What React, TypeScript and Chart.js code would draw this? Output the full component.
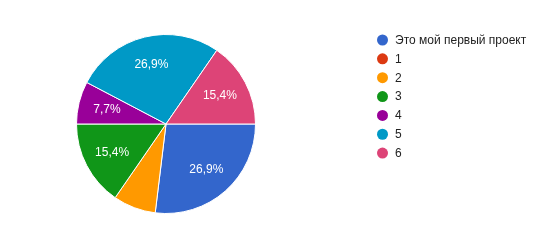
import React, { useEffect, useRef } from "react";
import { Chart, registerables } from "chart.js";

Chart.register(...registerables);

const categories = ["Это мой первый проект", "1", "2", "3", "4", "5", "6"];
const counts = [7, 0, 2, 4, 2, 7, 4];
const colors = ["#3366cc", "#dc3912", "#ff9900", "#109618", "#990099", "#0099c6", "#dd4477"];
const labelShown = [true, false, false, true, true, true, true];

const FONT = "'Liberation Sans', Arial, sans-serif";

const sliceLabels = {
  id: "sliceLabels",
  afterDatasetsDraw(chart: any) {
    const ctx = chart.ctx;
    const meta = chart.getDatasetMeta(0);
    const data = chart.data.datasets[0].data as number[];
    const total = data.reduce((a, b) => a + b, 0);
    ctx.save();
    ctx.font = `12px ${FONT}`;
    ctx.fillStyle = "#ffffff";
    ctx.textAlign = "center";
    ctx.textBaseline = "middle";
    meta.data.forEach((arc: any, i: number) => {
      if (!labelShown[i] || !data[i]) return;
      const { x, y, startAngle, endAngle, outerRadius } = arc.getProps(
        ["x", "y", "startAngle", "endAngle", "outerRadius"],
        true
      );
      const mid = (startAngle + endAngle) / 2;
      const r = outerRadius * 0.68;
      const txt = ((data[i] / total) * 100).toFixed(1).replace(".", ",") + "%";
      ctx.fillText(txt, x + Math.cos(mid) * r, y + Math.sin(mid) * r);
    });
    ctx.restore();
  },
};

const sideLegend = {
  id: "sideLegend",
  afterDraw(chart: any) {
    const ctx = chart.ctx;
    const labels = chart.data.labels as string[];
    const bg = chart.data.datasets[0].backgroundColor as string[];
    ctx.save();
    ctx.font = `12px ${FONT}`;
    ctx.textAlign = "left";
    ctx.textBaseline = "middle";
    labels.forEach((lab, i) => {
      const cy = 40 + i * 18.85;
      ctx.beginPath();
      ctx.arc(382.5, cy, 5.5, 0, Math.PI * 2);
      ctx.fillStyle = bg[i];
      ctx.fill();
      ctx.fillStyle = "#222222";
      ctx.fillText(lab, 395, cy + 0.5);
    });
    ctx.restore();
  },
};

export default function App() {
  const ref = useRef<HTMLCanvasElement>(null);
  useEffect(() => {
    if (!ref.current) return;
    const chart = new Chart(ref.current, {
      type: "pie",
      data: {
        labels: categories,
        datasets: [
          {
            data: counts,
            backgroundColor: colors,
            borderColor: "#ffffff",
            borderWidth: 1,
          },
        ],
      },
      options: {
        animation: false,
        responsive: false,
        rotation: 90,
        layout: { padding: { left: 76, right: 294, top: 34, bottom: 30 } },
        plugins: {
          legend: { display: false },
          tooltip: { enabled: false },
        },
      },
      plugins: [sliceLabels, sideLegend],
    });
    return () => chart.destroy();
  }, []);
  return (
    <div style={{ position: "fixed", left: 0, top: 0, width: 550, height: 244, background: "#fff" }}>
      <canvas ref={ref} width={550} height={244} style={{ width: 550, height: 244 }} />
    </div>
  );
}
